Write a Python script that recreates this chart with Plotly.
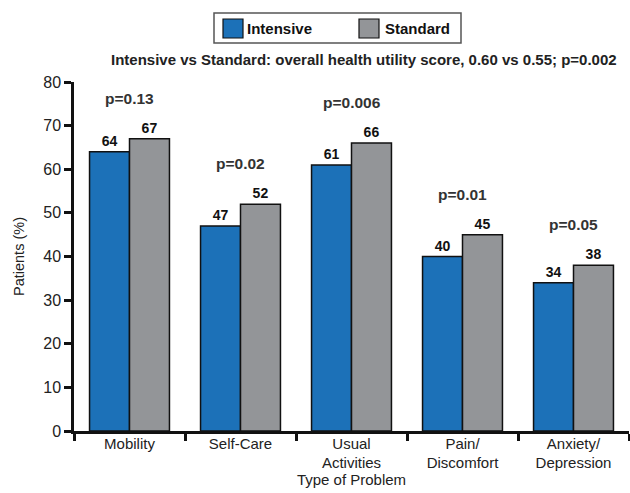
import plotly.graph_objects as go

categories = ["Mobility", "Self-Care", "Usual<br>Activities", "Pain/<br>Discomfort", "Anxiety/<br>Depression"]
intensive = [64, 47, 61, 40, 34]
standard = [67, 52, 66, 45, 38]
p_values = ["p=0.13", "p=0.02", "p=0.006", "p=0.01", "p=0.05"]
y_ticks = [0, 10, 20, 30, 40, 50, 60, 70, 80]

BLUE = "#1c71b8"
GRAY = "#939598"
FONT = "Arial, Liberation Sans, sans-serif"

fig = go.Figure()
fig.add_trace(go.Bar(
    x=categories, y=intensive, name="Intensive",
    marker=dict(color=BLUE, line=dict(color="#111111", width=1.5)),
    text=[str(v) for v in intensive], textposition="outside",
    textfont=dict(family=FONT, size=14, color="#111111", weight="bold"),
    cliponaxis=False,
))
fig.add_trace(go.Bar(
    x=categories, y=standard, name="Standard",
    marker=dict(color=GRAY, line=dict(color="#111111", width=1.5)),
    text=[str(v) for v in standard], textposition="outside",
    textfont=dict(family=FONT, size=14, color="#111111", weight="bold"),
    cliponaxis=False,
))

annotations = []
for c, p, a, b in zip(categories, p_values, intensive, standard):
    annotations.append(dict(
        x=c, y=max(a, b) + 9.3, xref="x", yref="y", text="<b>%s</b>" % p,
        showarrow=False, font=dict(family=FONT, size=15.5, color="#333333"),
    ))

def px_x(px):
    return (px - 74) / 555

def px_y(py):
    return (431 - py) / 349

# Subtitle
annotations.append(dict(
    x=px_x(364), y=px_y(60), xref="paper", yref="paper",
    text="<b>Intensive vs Standard: overall health utility score, 0.60 vs 0.55; p=0.002</b>",
    showarrow=False, font=dict(family=FONT, size=15, color="#222222"),
    xanchor="center", yanchor="middle",
))

shapes = []
# Legend box
shapes.append(dict(type="rect", xref="paper", yref="paper",
                   x0=px_x(214), x1=px_x(461), y0=px_y(43), y1=px_y(13),
                   line=dict(color="#555555", width=1.5), fillcolor="white"))
# Swatches
for x0, col in [(223, BLUE), (359, GRAY)]:
    shapes.append(dict(type="rect", xref="paper", yref="paper",
                       x0=px_x(x0), x1=px_x(x0 + 20), y0=px_y(38), y1=px_y(19),
                       line=dict(color="#111111", width=1.2), fillcolor=col))
for xt, name in [(245, "Intensive"), (383, "Standard")]:
    annotations.append(dict(
        x=px_x(xt), y=px_y(28.5), xref="paper", yref="paper",
        text="<b>%s</b>" % name, showarrow=False, xanchor="left", yanchor="middle",
        font=dict(family=FONT, size=15, color="#111111"),
    ))

fig.update_layout(
    width=630, height=493,
    margin=dict(l=74, r=1, t=82, b=62, autoexpand=False),
    paper_bgcolor="white", plot_bgcolor="white",
    barmode="group", bargap=0.28, bargroupgap=0.0,
    showlegend=False,
    font=dict(family=FONT, size=14, color="#222222"),
    annotations=annotations, shapes=shapes,
    xaxis=dict(
        showline=True, linecolor="#111111", linewidth=2.5,
        ticks="outside", tickson="boundaries", ticklen=7, tickwidth=2.5, tickcolor="#111111",
        tickfont=dict(family=FONT, size=15, color="#222222"),
        ticklabelstandoff=-3,
        title=dict(text="Type of Problem", font=dict(family=FONT, size=15, color="#222222"), standoff=5),
        showgrid=False, zeroline=False, automargin=False,
    ),
    yaxis=dict(
        range=[0, 80], tickvals=y_ticks,
        showline=True, linecolor="#111111", linewidth=2.5,
        ticks="outside", ticklen=7, tickwidth=2.5, tickcolor="#111111",
        tickfont=dict(family=FONT, size=16, color="#222222"),
        title=dict(text="Patients (%)", font=dict(family=FONT, size=14.5, color="#222222"), standoff=16),
        showgrid=False, zeroline=False, automargin=False,
    ),
)

fig.write_html("out.html", config={"displayModeBar": False},
               post_script="document.body.style.margin='0';document.body.style.padding='0';")
